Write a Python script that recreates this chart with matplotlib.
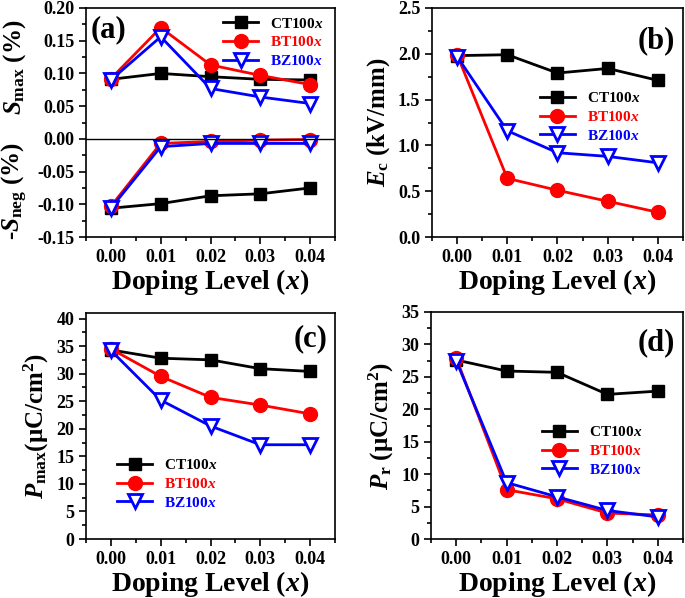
import numpy as np
import matplotlib.pyplot as plt
from matplotlib.ticker import MultipleLocator

plt.rcParams['font.family'] = ['Liberation Serif', 'DejaVu Serif']
plt.rcParams['font.weight'] = 'bold'
plt.rcParams['axes.labelweight'] = 'bold'
plt.rcParams['mathtext.fontset'] = 'custom'
plt.rcParams['mathtext.rm'] = 'Liberation Serif:bold'
plt.rcParams['mathtext.it'] = 'Liberation Serif:bold:italic'
plt.rcParams['mathtext.bf'] = 'Liberation Serif:bold'

x = [0.00, 0.01, 0.02, 0.03, 0.04]
labels = ["CT100$\\mathit{x}$", "BT100$\\mathit{x}$", "BZ100$\\mathit{x}$"]

# (a) strain
smax_ct = [0.091, 0.100, 0.095, 0.091, 0.090]
smax_bt = [0.092, 0.170, 0.113, 0.097, 0.083]
smax_bz = [0.090, 0.156, 0.077, 0.064, 0.054]
sneg_ct = [-0.106, -0.099, -0.087, -0.084, -0.075]
sneg_bt = [-0.103, -0.007, -0.004, -0.002, -0.001]
sneg_bz = [-0.106, -0.012, -0.007, -0.007, -0.007]

# (b) coercive field
ec_ct = [1.98, 1.99, 1.79, 1.84, 1.71]
ec_bt = [1.99, 0.64, 0.51, 0.39, 0.27]
ec_bz = [1.97, 1.16, 0.92, 0.88, 0.81]

# (c) max polarization
pmax_ct = [34.3, 32.8, 32.5, 30.9, 30.4]
pmax_bt = [34.5, 29.5, 25.7, 24.3, 22.7]
pmax_bz = [34.2, 25.2, 20.5, 17.1, 17.1]

# (d) remnant polarization
pr_ct = [27.6, 25.9, 25.7, 22.3, 22.8]
pr_bt = [27.9, 7.6, 6.2, 4.0, 3.7]
pr_bz = [27.5, 8.7, 6.5, 4.4, 3.4]

sty = [
    dict(color='black', marker='s', mfc='black', mec='black', ms=9),
    dict(color='red', marker='o', mfc='red', mec='red', ms=10),
    dict(color='blue', marker='v', mfc='white', mec='blue', ms=10, mew=2),
]
colors = ['black', 'red', 'blue']

fig = plt.figure(figsize=(6.85, 5.98), dpi=100)
W, H = 685, 598
boxes = {'a': (86, 8, 335, 237), 'b': (432, 8, 683, 237),
         'c': (86, 313, 335, 539), 'd': (431, 312, 683, 539)}
axs = {}
for k, (l, t, r, b) in boxes.items():
    axs[k] = fig.add_axes([l / W, 1 - b / H, (r - l) / W, (b - t) / H])


def style(ax, ymaj, ymin):
    ax.set_xlim(-0.005, 0.045)
    ax.xaxis.set_major_locator(MultipleLocator(0.01))
    ax.xaxis.set_minor_locator(MultipleLocator(0.005))
    ax.yaxis.set_major_locator(MultipleLocator(ymaj))
    ax.yaxis.set_minor_locator(MultipleLocator(ymin))
    ax.xaxis.set_major_formatter(plt.FormatStrFormatter('%.2f'))
    ax.tick_params(which='both', direction='out', top=False, right=False,
                   labelsize=13, width=1.2)
    ax.tick_params(which='major', length=5)
    ax.tick_params(which='minor', length=3)
    for s in ax.spines.values():
        s.set_linewidth(1.2)
    ax.set_xlabel("Doping Level ($\\mathit{x}$)", fontsize=20, labelpad=1)


def legend(ax, x0, yc):
    leg = ax.legend(frameon=False, fontsize=11, handlelength=2.3,
                    labelspacing=0.3, loc='center left', borderpad=0,
                    borderaxespad=0, bbox_to_anchor=(x0, yc))
    for t, c in zip(leg.get_texts(), colors):
        t.set_color(c)


# (a)
ax = axs['a']
for ys, s, lab in zip([smax_ct, smax_bt, smax_bz], sty, labels):
    ax.plot(x, ys, lw=2, label=lab, **s)
for ys, s in zip([sneg_ct, sneg_bt, sneg_bz], sty):
    ax.plot(x, ys, lw=2, **s)
ax.axhline(0, color='black', lw=1)
ax.set_ylim(-0.15, 0.20)
style(ax, 0.05, 0.025)
ax.yaxis.set_major_formatter(plt.FormatStrFormatter('%.2f'))
ax.text(-0.285, 0.74, "$\\mathit{S}_{\\mathrm{max}}$ (%)", transform=ax.transAxes,
        rotation=90, fontsize=18, ha='center', va='center', fontweight='bold')
ax.text(-0.285, 0.2, "-$\\mathit{S}_{\\mathrm{neg}}$ (%)", transform=ax.transAxes,
        rotation=90, fontsize=18, ha='center', va='center', fontweight='bold')
ax.text(0.02, 0.97, "(a)", transform=ax.transAxes, fontsize=22, va='top')
legend(ax, 0.55, 0.85)

# (b)
ax = axs['b']
for ys, s, lab in zip([ec_ct, ec_bt, ec_bz], sty, labels):
    ax.plot(x, ys, lw=2, label=lab, **s)
ax.set_ylim(0, 2.5)
style(ax, 0.5, 0.25)
ax.yaxis.set_major_formatter(plt.FormatStrFormatter('%.1f'))
ax.set_ylabel("$\\mathit{E}_{\\mathrm{c}}$ (kV/mm)", fontsize=18, labelpad=4)
ax.text(0.97, 0.92, "(b)", transform=ax.transAxes, fontsize=22, va='top', ha='right')
legend(ax, 0.43, 0.524)

# (c)
ax = axs['c']
for ys, s, lab in zip([pmax_ct, pmax_bt, pmax_bz], sty, labels):
    ax.plot(x, ys, lw=2, label=lab, **s)
ax.set_ylim(0, 41)
style(ax, 5, 2.5)
ax.set_ylabel("$\\mathit{P}_{\\mathrm{max}}$($\\mathrm{\\mu}$C/cm$^2$)", fontsize=18, labelpad=4)
ax.text(0.97, 0.95, "(c)", transform=ax.transAxes, fontsize=22, va='top', ha='right')
legend(ax, 0.125, 0.243)

# (d)
ax = axs['d']
for ys, s, lab in zip([pr_ct, pr_bt, pr_bz], sty, labels):
    ax.plot(x, ys, lw=2, label=lab, **s)
ax.set_ylim(0, 35)
style(ax, 5, 2.5)
ax.set_ylabel("$\\mathit{P}_{\\mathrm{r}}$ ($\\mathrm{\\mu}$C/cm$^2$)", fontsize=18, labelpad=4)
ax.text(0.97, 0.93, "(d)", transform=ax.transAxes, fontsize=22, va='top', ha='right')
legend(ax, 0.44, 0.388)

fig.savefig("out.png", dpi=100)
